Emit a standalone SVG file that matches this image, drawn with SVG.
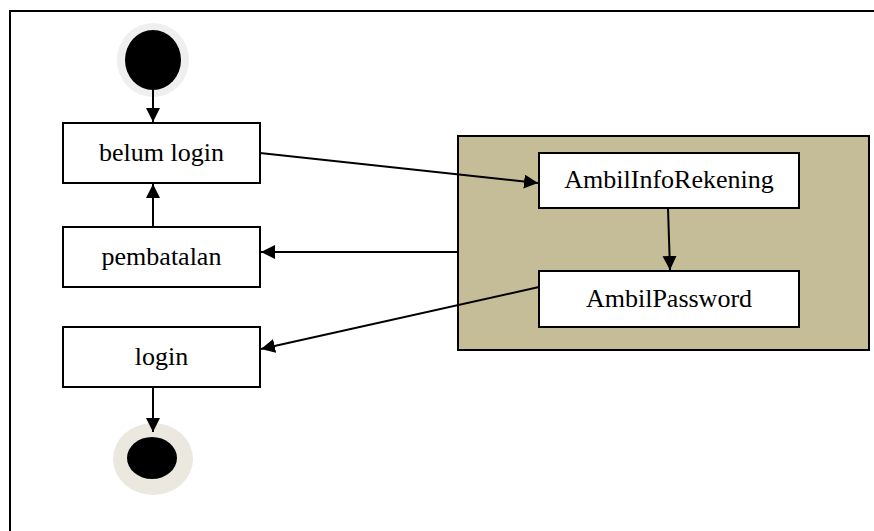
<svg xmlns="http://www.w3.org/2000/svg" width="874" height="531" viewBox="0 0 874 531">
  <defs>
    <marker id="arrow" markerUnits="userSpaceOnUse" markerWidth="15" markerHeight="15" refX="14" refY="7" orient="auto">
      <path d="M0,0 L14,7 L0,14 Z" fill="#000"/>
    </marker>
    <style>
      .box { fill: #fff; stroke: #000; stroke-width: 2; }
      .label { font-family: "Liberation Serif", "Times New Roman", serif; font-size: 26px; fill: #000; text-anchor: middle; }
      .edge { fill: none; stroke: #000; stroke-width: 2; marker-end: url(#arrow); }
    </style>
  </defs>

  <rect width="874" height="531" fill="#fff"/>
  <!-- outer frame (runs past the right and bottom edges) -->
  <path d="M10,531 V11 H874" fill="none" stroke="#000" stroke-width="2"/>

  <!-- swimlane / partition -->
  <g id="partition">
    <rect x="458" y="136" width="411" height="214" fill="#c4bd97" stroke="#000" stroke-width="2"/>
  </g>

  <g id="start">
    <ellipse cx="153" cy="60" rx="36" ry="37" fill="#efefef"/>
    <ellipse cx="153" cy="60" rx="28" ry="30" fill="#000"/>
  </g>

  <g id="belum-login">
    <rect class="box" x="63" y="123" width="197" height="60"/>
    <text class="label" x="161.5" y="161">belum login</text>
  </g>

  <g id="pembatalan">
    <rect class="box" x="63" y="227" width="197" height="60"/>
    <text class="label" x="161.5" y="265">pembatalan</text>
  </g>

  <g id="login">
    <rect class="box" x="63" y="327" width="197" height="60"/>
    <text class="label" x="161.5" y="365">login</text>
  </g>

  <g id="end">
    <ellipse cx="153" cy="459" rx="40" ry="36" fill="#ebe9df"/>
    <ellipse cx="152" cy="458" rx="25" ry="21" fill="#000"/>
  </g>

  <g id="ambil-info-rekening">
    <rect class="box" x="539" y="153" width="260" height="55"/>
    <text class="label" x="669" y="188">AmbilInfoRekening</text>
  </g>

  <g id="ambil-password">
    <rect class="box" x="539" y="271" width="260" height="56"/>
    <text class="label" x="669" y="307">AmbilPassword</text>
  </g>

  <g id="connectors">
    <line class="edge" x1="153" y1="90" x2="153" y2="122"/>
    <line class="edge" x1="153" y1="227" x2="153" y2="184"/>
    <line class="edge" x1="153" y1="387" x2="153" y2="432"/>
    <line class="edge" x1="260" y1="153" x2="538" y2="183"/>
    <line class="edge" x1="668" y1="208" x2="670" y2="270"/>
    <line class="edge" x1="458" y1="252" x2="261" y2="252"/>
    <line class="edge" x1="539" y1="287" x2="261" y2="349"/>
  </g>
</svg>
